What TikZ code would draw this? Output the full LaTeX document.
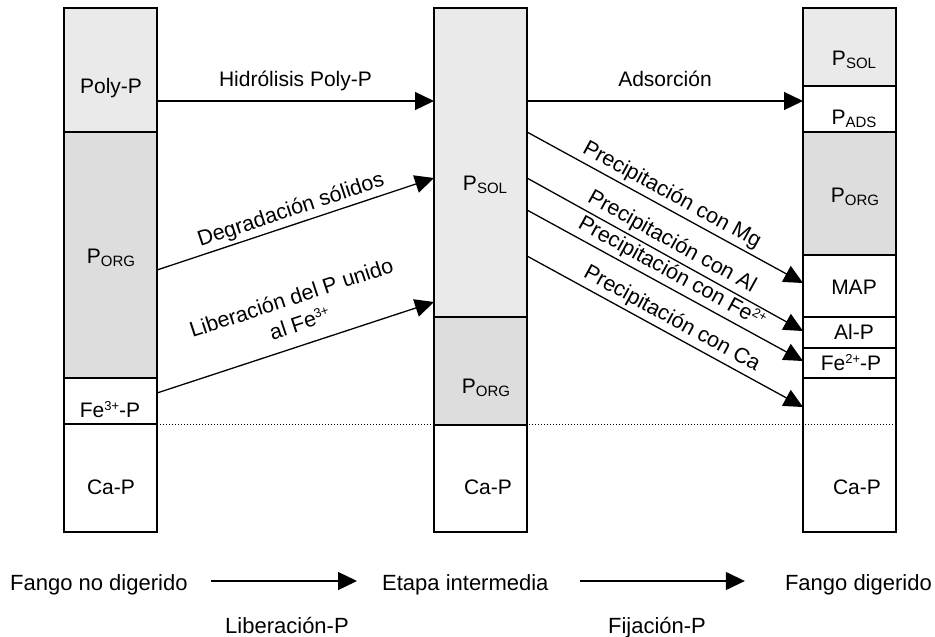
\documentclass[tikz,border=0pt]{standalone}
\usepackage{fontspec}
\setmainfont{Liberation Sans}
\usetikzlibrary{arrows.meta,calc}
\definecolor{solfill}{RGB}{234,234,234}
\definecolor{orgfill}{RGB}{221,221,221}
\newcommand\psub[1]{P\raisebox{-3pt}{\fontsize{15}{15}\selectfont #1}}
\newcommand\supx[1]{\raisebox{7pt}{\fontsize{13}{13}\selectfont #1}}
\begin{document}
\begin{tikzpicture}[x=1pt,y=-1pt,
  seg/.style={draw, line width=1.5pt, minimum width=93pt, inner sep=0pt, outer sep=0pt},
  arr/.style={line width=1.3pt, -{Triangle[length=19pt,width=18pt]}},
  txt/.style={font=\fontsize{21}{27}\selectfont, inner sep=0pt, anchor=base},
  lbl/.style={font=\fontsize{21.5}{27}\selectfont},
  btxt/.style={font=\fontsize{22}{27}\selectfont, inner sep=0pt}]
\useasboundingbox[fill=white] (0,0) rectangle (935,637);

% left column
\node[seg, fill=solfill, minimum height=124pt] (lpoly) at (110.5,70) {};
\node[seg, fill=orgfill, minimum height=246pt] (lorg) at (110.5,255) {};
\node[seg, fill=white, minimum height=46pt] (lfe) at (110.5,401) {};
\node[seg, fill=white, minimum height=108pt] (lca) at (110.5,478) {};
% middle column
\node[seg, fill=solfill, minimum height=309pt] (msol) at (480.5,162.5) {};
\node[seg, fill=orgfill, minimum height=108pt] (morg) at (480.5,371) {};
\node[seg, fill=white, minimum height=107pt] (mca) at (480.5,478.5) {};
% right column
\node[seg, fill=solfill, minimum height=78pt] (rsol) at (849.5,47) {};
\node[seg, fill=white, minimum height=46pt] (rads) at (849.5,109) {};
\node[seg, fill=orgfill, minimum height=123pt] (rorg) at (849.5,193.5) {};
\node[seg, fill=white, minimum height=62pt] (rmap) at (849.5,286) {};
\node[seg, fill=white, minimum height=31pt] (ral) at (849.5,332.5) {};
\node[seg, fill=white, minimum height=30pt] (rfe) at (849.5,363) {};
\node[seg, fill=white, minimum height=154pt] (rca) at (849.5,455) {};

% labels in columns
\node[txt] (tpoly) at (111,93) {Poly-P};
\node[txt] (torgl) at (111,263) {\psub{ORG}};
\node[txt] (tfel) at (110,417) {Fe\supx{3+}-P};
\node[txt] (tcal) at (111,494) {Ca-P};
\node[txt] (tsolm) at (485,190) {\psub{SOL}};
\node[txt] (torgm) at (486,393) {\psub{ORG}};
\node[txt] (tcam) at (488,494) {Ca-P};
\node[txt] (tsolr) at (854,65) {\psub{SOL}};
\node[txt] (tadsr) at (854,124) {\psub{ADS}};
\node[txt] (torgr) at (855,202) {\psub{ORG}};
\node[txt] (tmap) at (854,294) {MAP};
\node[txt] (talp) at (854,339) {Al-P};
\node[txt] (tfer) at (851,370) {Fe\supx{2+}-P};
\node[txt] (tcar) at (857,494) {Ca-P};

% dotted separation
\draw[dotted, line width=1pt] (lfe.south east) -- ([yshift=-46pt]rca.north east);

% release arrows
\draw[arr] ([yshift=31pt]lpoly.south east) -- ([yshift=-93pt]msol.north west)
  node[midway, yshift=14.3pt, txt] (hid) {Hidrólisis Poly-P};
\draw[arr] ([yshift=108pt]lorg.south east) -- ([yshift=-170pt]msol.north west)
  node[midway, above, sloped, lbl] (deg) {Degradación sólidos};
\draw[arr] ([yshift=-15pt]lfe.north east) -- ([yshift=15pt]msol.south west)
  node[pos=0.54, above=10pt, sloped, lbl, align=center] (lib) {Liberación del P unido\\al Fe\supx{3+}};

% fixation arrows
\draw[arr] ([yshift=-93pt]msol.north east) -- ([yshift=-15pt]rads.north west)
  node[midway, yshift=14.3pt, txt] (ads) {Adsorción};
\draw[arr] ([yshift=-124pt]msol.north east) -- ([yshift=-28pt]rmap.north west)
  node[midway, above, sloped, lbl] (pmg) {Precipitación con Mg};
\draw[arr] ([yshift=-170pt]msol.north east) -- ([yshift=-14pt]ral.north west)
  node[midway, above, sloped, lbl] (pal) {Precipitación con Al};
\draw[arr] ([yshift=-202pt]msol.north east) -- ([yshift=-13pt]rfe.north west)
  node[midway, above, sloped, lbl] (pfe) {Precipitación con Fe\supx{2+}};
\draw[arr] ([yshift=-248pt]msol.north east) -- ([yshift=-29pt]rca.north west)
  node[midway, above, sloped, lbl] (pca) {Precipitación con Ca};

% bottom legend
\node[btxt, anchor=base west] (b1) at (10,590) {Fango no digerido};
\node[btxt, anchor=base west] (b2) at (382,590) {Etapa intermedia};
\node[btxt, anchor=base east] (b3) at (932,590) {Fango digerido};
\node[btxt, anchor=base] (l1) at (287,633) {Liberación-P};
\node[btxt, anchor=base] (l2) at (657,633) {Fijación-P};
\draw[arr] ($(b1.base east)+(23,-9)$) -- ($(b2.base west)+(-25,-9)$);
\draw[arr] ($(b2.base east)+(31,-9)$) -- ($(b3.base west)+(-40,-9)$);
\end{tikzpicture}
\end{document}
